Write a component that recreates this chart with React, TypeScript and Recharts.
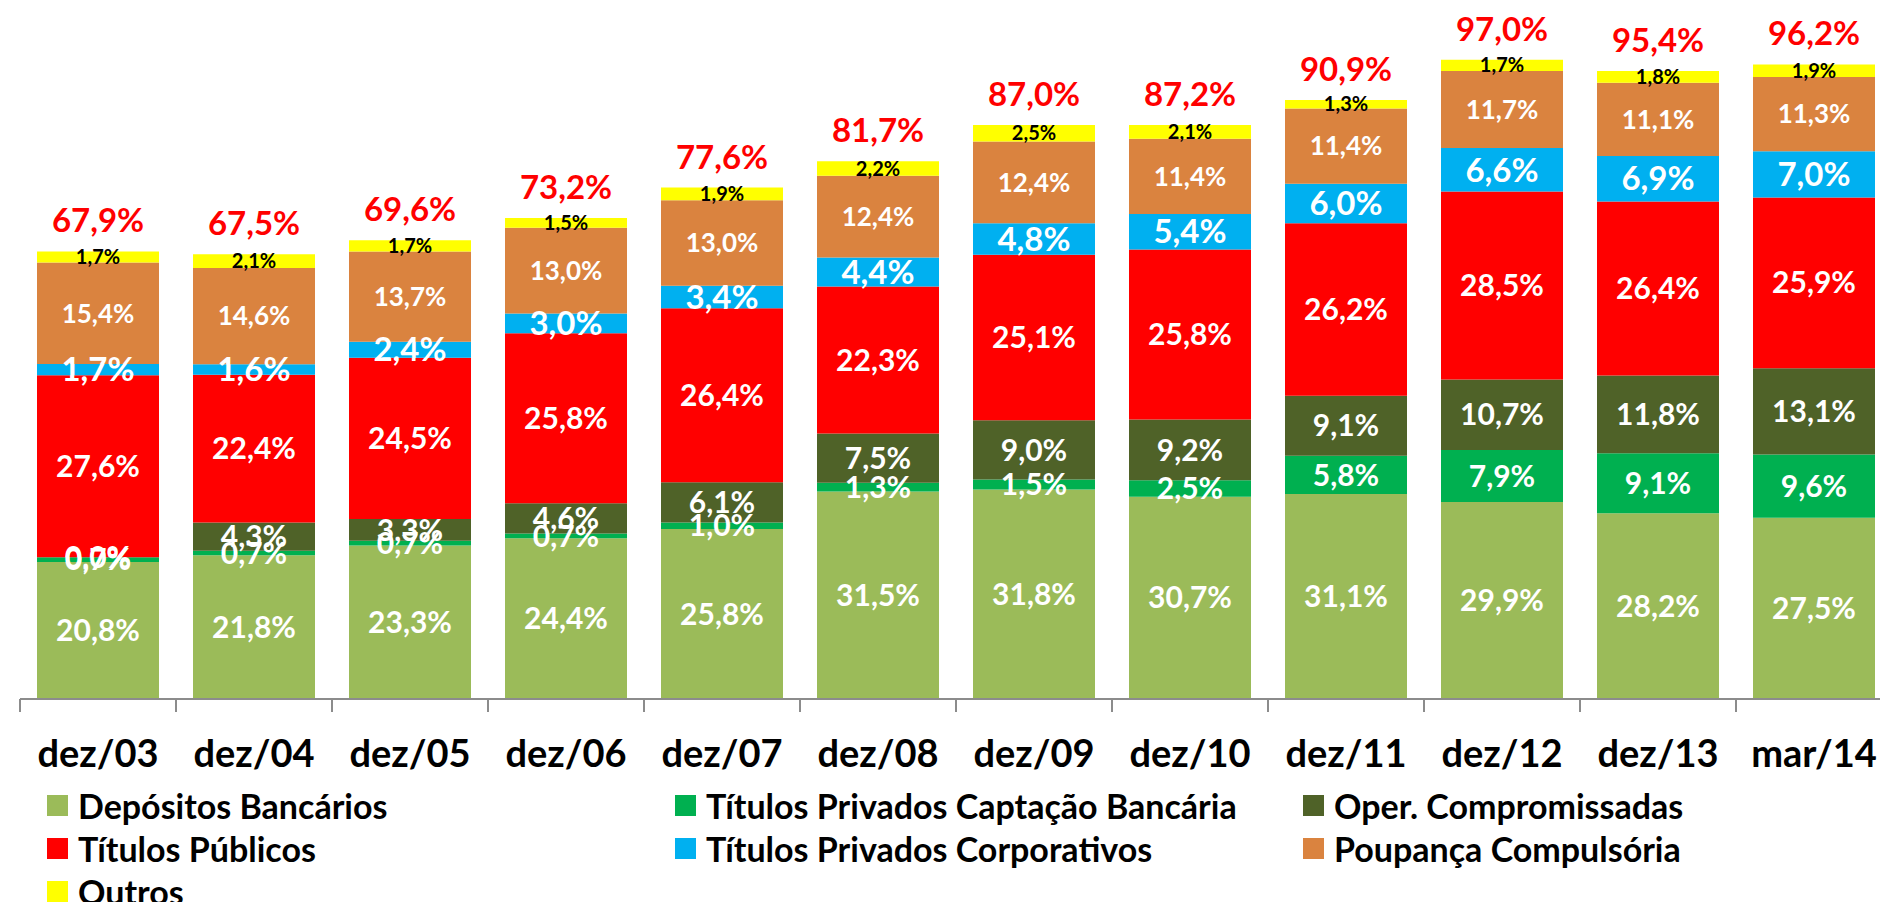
import React from 'react';
import { BarChart, Bar, XAxis, YAxis, LabelList } from 'recharts';

const categories = ['dez/03', 'dez/04', 'dez/05', 'dez/06', 'dez/07', 'dez/08', 'dez/09', 'dez/10', 'dez/11', 'dez/12', 'dez/13', 'mar/14'];
const depositos = [20.8, 21.8, 23.3, 24.4, 25.8, 31.5, 31.8, 30.7, 31.1, 29.9, 28.2, 27.5];
const captacao = [0.7, 0.7, 0.7, 0.7, 1.0, 1.3, 1.5, 2.5, 5.8, 7.9, 9.1, 9.6];
// dez/03 reads "0,0%" -> a tiny value below the rounding step
const compromissadas = [0.02, 4.3, 3.3, 4.6, 6.1, 7.5, 9.0, 9.2, 9.1, 10.7, 11.8, 13.1];
const publicos = [27.6, 22.4, 24.5, 25.8, 26.4, 22.3, 25.1, 25.8, 26.2, 28.5, 26.4, 25.9];
const corporativos = [1.7, 1.6, 2.4, 3.0, 3.4, 4.4, 4.8, 5.4, 6.0, 6.6, 6.9, 7.0];
const poupanca = [15.4, 14.6, 13.7, 13.0, 13.0, 12.4, 12.4, 11.4, 11.4, 11.7, 11.1, 11.3];
const outros = [1.7, 2.1, 1.7, 1.5, 1.9, 2.2, 2.5, 2.1, 1.3, 1.7, 1.8, 1.9];
const totals = [67.9, 67.5, 69.6, 73.2, 77.6, 81.7, 87.0, 87.2, 90.9, 97.0, 95.4, 96.2];

const FONT = 'Lato, "Open Sans", sans-serif';

const series = [
  { key: 'depositos', name: 'Depósitos Bancários', color: '#9BBB59', labelColor: '#fff', labelSize: 30 },
  { key: 'captacao', name: 'Títulos Privados Captação Bancária', color: '#00B050', labelColor: '#fff', labelSize: 30 },
  { key: 'compromissadas', name: 'Oper. Compromissadas', color: '#4F6228', labelColor: '#fff', labelSize: 30 },
  { key: 'publicos', name: 'Títulos Públicos', color: '#FF0000', labelColor: '#fff', labelSize: 30 },
  { key: 'corporativos', name: 'Títulos Privados Corporativos', color: '#00B0F0', labelColor: '#fff', labelSize: 33 },
  { key: 'poupanca', name: 'Poupança Compulsória', color: '#DA833F', labelColor: '#fff', labelSize: 26 },
  { key: 'outros', name: 'Outros', color: '#FFFF00', labelColor: '#000', labelSize: 20 },
];

const data = categories.map((c, i) => ({
  name: c,
  depositos: depositos[i],
  captacao: captacao[i],
  compromissadas: compromissadas[i],
  publicos: publicos[i],
  corporativos: corporativos[i],
  poupanca: poupanca[i],
  outros: outros[i],
  total: totals[i],
}));

const fmt = (v: any) => Number(v).toFixed(1).replace('.', ',') + '%';

// Excel-style tick: marks sit on the category boundaries, not the centres
const CategoryTick = (props: any) => {
  const { x, y, payload, index } = props;
  const half = payload && payload.offset ? payload.offset : 78;
  return (
    <g>
      <line x1={x - half} x2={x - half} y1={y} y2={y + 13} stroke="#8c8c8c" strokeWidth={2} />
      {index === categories.length - 1 && (
        <line x1={x + half} x2={x + half} y1={y} y2={y + 13} stroke="#8c8c8c" strokeWidth={2} />
      )}
      <text x={x} y={y + 68} textAnchor="middle" fontSize={38} fontWeight="bold" fill="#000" fontFamily={FONT}>
        {payload.value}
      </text>
    </g>
  );
};

const legendCols = [47, 675, 1303];

const App = () => {
  return (
    <div style={{ position: 'absolute', left: 0, top: 0, width: 1880, height: 902, overflow: 'hidden', background: '#fff', fontFamily: FONT }}>
      <BarChart width={1900} height={790} data={data} margin={{ top: 40, right: 8, bottom: 11, left: 20 }} barSize={122}>
        <XAxis
          dataKey="name"
          height={80}
          interval={0}
          axisLine={{ stroke: '#8c8c8c', strokeWidth: 2 }}
          tickLine={false}
          tickSize={0}
          tickMargin={0}
          tick={<CategoryTick />}
        />
        <YAxis hide domain={[0, 100]} />
        {series.map((s) => (
          <Bar key={s.key} dataKey={s.key} stackId="a" fill={s.color} isAnimationActive={false}>
            <LabelList
              dataKey={s.key}
              position="center"
              formatter={fmt}
              fill={s.labelColor}
              fontSize={s.labelSize}
              fontWeight="bold"
              fontFamily={FONT}
            />
            {s.key === 'outros' && (
              <LabelList
                dataKey="total"
                position="top"
                offset={19}
                formatter={fmt}
                fill="#FF0000"
                fontSize={33}
                fontWeight="bold"
                fontFamily={FONT}
              />
            )}
          </Bar>
        ))}
      </BarChart>
      {series.map((s, i) => {
        const col = i % 3;
        const row = Math.floor(i / 3);
        return (
          <div
            key={s.key}
            style={{
              position: 'absolute',
              left: legendCols[col],
              top: 795 + row * 43,
              height: 21,
              display: 'flex',
              alignItems: 'center',
              whiteSpace: 'nowrap',
            }}
          >
            <span style={{ display: 'inline-block', width: 21, height: 21, background: s.color, marginRight: 10 }} />
            <span style={{ fontSize: 34, fontWeight: 'bold', color: '#000', lineHeight: '21px' }}>{s.name}</span>
          </div>
        );
      })}
    </div>
  );
};

export default App;
